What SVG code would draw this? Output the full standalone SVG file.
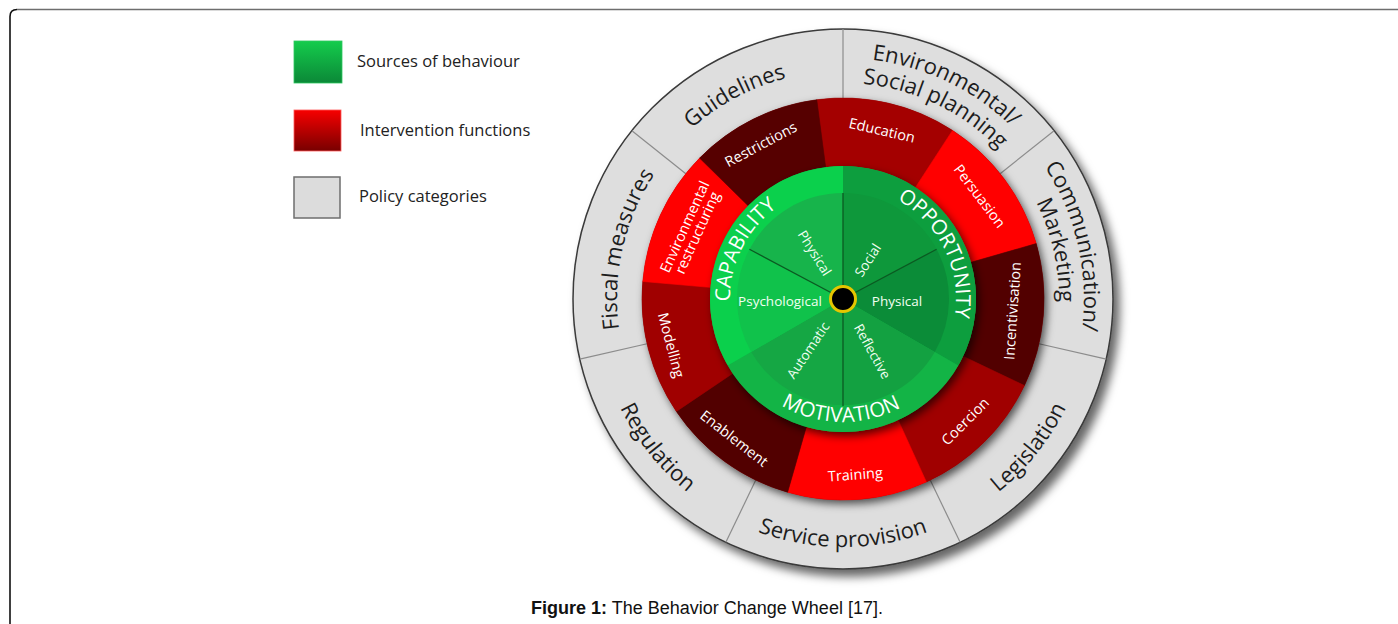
<svg xmlns="http://www.w3.org/2000/svg" xmlns:xlink="http://www.w3.org/1999/xlink" width="1398" height="624" viewBox="0 0 1398 624">
<style>
.pol{font-family:'Open Sans','Noto Sans',sans-serif;font-size:22px;fill:#1c1c1c;text-anchor:middle}
.itv{font-family:'Open Sans','Noto Sans',sans-serif;font-size:14.5px;fill:#ffffff;text-anchor:middle}
.src{font-family:'Open Sans','Noto Sans',sans-serif;font-size:20.5px;fill:#ffffff;text-anchor:middle}
.sub{font-family:'Open Sans','Noto Sans',sans-serif;font-size:13.5px;fill:#f2fff2;text-anchor:middle}
.leg{font-family:'Open Sans','Noto Sans',sans-serif;font-size:16.5px;fill:#222}
.cap{font-family:'Liberation Sans',Arial,sans-serif;font-size:18px;fill:#111;text-anchor:middle}
.div{stroke:#8c8c8c;stroke-width:1.2}
.spk{stroke:#0b5a22;stroke-width:1.3}
</style>
<defs>
<filter id="shOuter" x="-10%" y="-10%" width="125%" height="125%">
<feDropShadow dx="6" dy="7" stdDeviation="5" flood-color="#000" flood-opacity="0.6"/>
</filter>
<filter id="shRing" x="-10%" y="-10%" width="125%" height="125%">
<feDropShadow dx="3" dy="4" stdDeviation="4" flood-color="#000" flood-opacity="0.65"/>
</filter>
<linearGradient id="gLeg" x1="0" y1="0" x2="0" y2="1">
<stop offset="0" stop-color="#14cc4c"/><stop offset="1" stop-color="#0b8837"/>
</linearGradient>
<linearGradient id="rLeg" x1="0" y1="0" x2="0" y2="1">
<stop offset="0" stop-color="#f70000"/><stop offset="1" stop-color="#780000"/>
</linearGradient>
<path id="pGuide" d="M615.14,291.04 A228,228 0 0 1 963.82,105.64"/>
<path id="pEnv1" d="M707.18,99.89 A241,241 0 0 1 1083.32,280.92"/>
<path id="pEnv2" d="M721.28,120.56 A216,216 0 0 1 1058.39,282.80"/>
<path id="pCom1" d="M913.86,68.67 A241,241 0 0 1 1007.05,475.53"/>
<path id="pCom2" d="M906.51,92.55 A216,216 0 0 1 990.04,457.23"/>
<path id="pLeg" d="M805.91,544.21 A248,248 0 0 0 1073.90,208.51"/>
<path id="pSer" d="M628.23,423 A248,248 0 0 0 1057.77,423"/>
<path id="pReg" d="M612.10,208.51 A248,248 0 0 0 880.09,544.21"/>
<path id="pFis" d="M689.16,464.55 A226,226 0 0 1 776.55,82.99"/>
<path id="pCap" d="M748.77,361.37 A113,113 0 0 1 836.10,186.21"/>
<path id="pOpp" d="M850.88,186.28 A113,113 0 0 1 936.68,362.19"/>
<path id="pMot" d="M735.42,358.63 A123,123 0 0 0 948.43,362.35"/>
</defs>

<rect x="0" y="0" width="1398" height="624" fill="#ffffff"/>
<g id="frame" fill="none">
<path d="M10,624 V16.5 Q10,9.5 17,9.5" stroke="#111" stroke-width="1.6"/>
<path d="M17,9.5 H1398" stroke="#6e6e6e" stroke-width="1.6"/>
</g>

<g id="legend">
<g id="legend-sources">
<rect x="294" y="41" width="48" height="42" fill="url(#gLeg)" stroke="#2ec760" stroke-width="0.8"/>
<text class="leg" x="357" y="66.5">Sources of behaviour</text>
</g>
<g id="legend-interventions">
<rect x="294" y="110" width="47" height="41" fill="url(#rLeg)" stroke="#ff5a5a" stroke-width="0.8"/>
<text class="leg" x="360" y="136">Intervention functions</text>
</g>
<g id="legend-policy">
<rect x="294" y="177" width="46" height="41" fill="#dcdcdc" stroke="#6e6e6e" stroke-width="1.5"/>
<text class="leg" x="359" y="201.5">Policy categories</text>
</g>
</g>

<g id="wheel">
<g id="policy-ring">
<circle cx="843" cy="299" r="270" fill="#dedede" stroke="#3a3a3a" stroke-width="1.5" filter="url(#shOuter)"/>
<g id="policy-dividers">
<line class="div" x1="843" y1="98" x2="843" y2="29"/>
<line class="div" x1="1000.15" y1="173.68" x2="1054.09" y2="130.66"/>
<line class="div" x1="1038.96" y1="343.73" x2="1106.23" y2="359.08"/>
<line class="div" x1="930.21" y1="480.09" x2="960.15" y2="542.26"/>
<line class="div" x1="755.79" y1="480.09" x2="725.85" y2="542.26"/>
<line class="div" x1="647.04" y1="343.73" x2="579.77" y2="359.08"/>
<line class="div" x1="685.85" y1="173.68" x2="631.91" y2="130.66"/>
</g>
<g id="policy-environmental"><text class="pol"><textPath href="#pEnv1" startOffset="50%">Environmental/</textPath></text><text class="pol"><textPath href="#pEnv2" startOffset="50%">Social planning</textPath></text></g>
<g id="policy-communication"><text class="pol"><textPath href="#pCom1" startOffset="50%">Communication/</textPath></text><text class="pol"><textPath href="#pCom2" startOffset="50%">Marketing</textPath></text></g>
<g id="policy-legislation"><text class="pol"><textPath href="#pLeg" startOffset="50%">Legislation</textPath></text></g>
<g id="policy-service"><text class="pol"><textPath href="#pSer" startOffset="50%">Service provision</textPath></text></g>
<g id="policy-regulation"><text class="pol"><textPath href="#pReg" startOffset="50%">Regulation</textPath></text></g>
<g id="policy-fiscal"><text class="pol"><textPath href="#pFis" startOffset="50%">Fiscal measures</textPath></text></g>
<g id="policy-guidelines"><text class="pol"><textPath href="#pGuide" startOffset="50%">Guidelines</textPath></text></g>
</g>

<g id="intervention-ring">
<circle cx="843" cy="299" r="201" fill="#800000" filter="url(#shRing)"/>
<g id="int-education"><path d="M843,299 L816.76,99.72 A201,201 0 0 1 952.47,130.43 Z" fill="#a40000" stroke="#a40000" stroke-width="0.6"/><text class="itv" x="843" y="131" transform="rotate(13 843 299)">Education</text></g>
<g id="int-persuasion"><path d="M843,299 L952.47,130.43 A201,201 0 0 1 1036.21,243.60 Z" fill="#ff0000" stroke="#ff0000" stroke-width="0.6"/><text class="itv" x="843" y="133" transform="rotate(53 843 299)">Persuasion</text></g>
<g id="int-incentivisation"><path d="M843,299 L1036.21,243.60 A201,201 0 0 1 1024.42,385.53 Z" fill="#520000" stroke="#520000" stroke-width="0.6"/><text class="itv" x="843" y="474" transform="rotate(-86 843 299)">Incentivisation</text></g>
<g id="int-coercion"><path d="M843,299 L1024.42,385.53 A201,201 0 0 1 926.35,481.90 Z" fill="#a00000" stroke="#a00000" stroke-width="0.6"/><text class="itv" x="843" y="477" transform="rotate(-45 843 299)">Coercion</text></g>
<g id="int-training"><path d="M843,299 L926.35,481.90 A201,201 0 0 1 787.60,492.21 Z" fill="#ff0000" stroke="#ff0000" stroke-width="0.6"/><text class="itv" x="843" y="480" transform="rotate(-4 843 299)">Training</text></g>
<g id="int-enablement"><path d="M843,299 L787.60,492.21 A201,201 0 0 1 676.36,411.40 Z" fill="#520000" stroke="#520000" stroke-width="0.6"/><text class="itv" x="843" y="481" transform="rotate(38 843 299)">Enablement</text></g>
<g id="int-modelling"><path d="M843,299 L676.36,411.40 A201,201 0 0 1 642.77,281.48 Z" fill="#a00000" stroke="#a00000" stroke-width="0.6"/><text class="itv" x="843" y="482" transform="rotate(75 843 299)">Modelling</text></g>
<g id="int-environmental"><path d="M843,299 L642.77,281.48 A201,201 0 0 1 699.64,158.12 Z" fill="#ff0000" stroke="#ff0000" stroke-width="0.6"/><text class="itv" x="843" y="130" transform="rotate(294.5 843 299)">Environmental</text><text class="itv" x="843" y="144" transform="rotate(294.5 843 299)">restructuring</text></g>
<g id="int-restrictions"><path d="M843,299 L699.64,158.12 A201,201 0 0 1 816.76,99.72 Z" fill="#560000" stroke="#560000" stroke-width="0.6"/><text class="itv" x="843" y="129" transform="rotate(332 843 299)">Restrictions</text></g>
</g>

<g id="sources">
<circle cx="843" cy="299" r="133" fill="#10b044" filter="url(#shRing)"/>
<g id="src-opportunity"><path d="M843,299 L843,166 A133,133 0 0 1 958.18,365.5 Z" fill="#0d9e3e"/></g>
<g id="src-motivation"><path d="M843,299 L958.18,365.5 A133,133 0 0 1 727.82,365.5 Z" fill="#13b446"/></g>
<g id="src-capability"><path d="M843,299 L727.82,365.5 A133,133 0 0 1 843,166 Z" fill="#0bd04c"/></g>
<g id="sub-social"><path d="M843,299 L843,193 A106,106 0 0 1 936.59,249.24 Z" fill="#0e983b"/></g>
<g id="sub-physical-opp"><path d="M843,299 L936.59,249.24 A106,106 0 0 1 934.80,352 Z" fill="#0b8c38"/></g>
<g id="sub-reflective"><path d="M843,299 L934.80,352 A106,106 0 0 1 843,405 Z" fill="#13a141"/></g>
<g id="sub-automatic"><path d="M843,299 L843,405 A106,106 0 0 1 751.20,352 Z" fill="#15a744"/></g>
<g id="sub-psychological"><path d="M843,299 L751.20,352 A106,106 0 0 1 749.41,249.24 Z" fill="#10c24b"/></g>
<g id="sub-physical-cap"><path d="M843,299 L749.41,249.24 A106,106 0 0 1 843,193 Z" fill="#17b44b"/></g>
<g id="spokes">
<line class="spk" x1="843" y1="299" x2="843" y2="193"/>
<line class="spk" x1="843" y1="299" x2="936.59" y2="249.24"/>
<line class="spk" x1="843" y1="299" x2="843" y2="406"/>
<line class="spk" x1="843" y1="299" x2="749.41" y2="249.24"/>
</g>
<text class="src"><textPath href="#pCap" startOffset="50%">CAPABILITY</textPath></text>
<text class="src"><textPath href="#pOpp" startOffset="50%">OPPORTUNITY</textPath></text>
<text class="src"><textPath href="#pMot" startOffset="50%">MOTIVATION</textPath></text>
<text class="sub" x="780" y="306">Psychological</text>
<text class="sub" x="897" y="306">Physical</text>
<text class="sub" y="4.5" transform="translate(814.38 253.21) rotate(58)">Physical</text>
<text class="sub" y="4.5" transform="translate(868.05 260.42) rotate(-57)">Social</text>
<text class="sub" y="4.5" transform="translate(808.33 350.40) rotate(-56)">Automatic</text>
<text class="sub" y="4.5" transform="translate(872.09 351.48) rotate(61)">Reflective</text>
<circle id="hub" cx="843" cy="299" r="12.5" fill="#000" stroke="#e5c600" stroke-width="3"/>
</g>
</g>

<text class="cap" x="707" y="614"><tspan font-weight="bold">Figure 1:</tspan> The Behavior Change Wheel [17].</text>
</svg>
